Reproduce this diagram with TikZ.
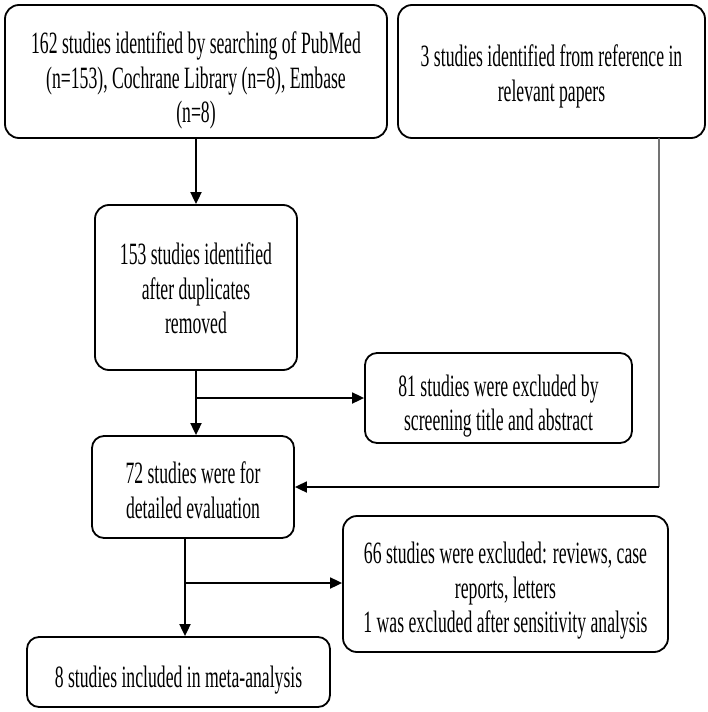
\documentclass[tikz,border=0pt]{standalone}
\usepackage{fontspec}
\setmainfont{Liberation Serif}[FakeStretch=0.57]
\usetikzlibrary{arrows.meta}
\begin{document}
\begin{tikzpicture}[x=1pt,y=-1pt,
  box/.style={draw, line width=1.8pt, rounded corners=14pt, inner sep=0pt},
  txt/.style={align=center, inner sep=0pt, font=\fontsize{31}{34.5}\selectfont},
  arr/.style={line width=1.8pt, -{Triangle[length=12pt,width=11pt]}},
  ln/.style={line width=1.8pt},
  gln/.style={line width=1.3pt, draw=black!55}]
\useasboundingbox (0,0) rectangle (708,712);
\fill[white] (0,0) rectangle (708,712);

\node[box, minimum width=382pt, minimum height=133pt] (b1) at (196,71.5) {};
\node[txt] (t1) at ([yshift=-9pt]b1.center)
  {162 studies identified by searching of PubMed\\(n=153), Cochrane Library (n=8), Embase\\(n=8)};
\node[box, minimum width=307pt, minimum height=133pt] (b2) at (551.5,71.5) {};
\node[txt] (t2) at ([yshift=-5pt]b2.center)
  {3 studies identified from reference in\\relevant papers};
\node[box, minimum width=202pt, minimum height=165pt] (b3) at (196,287.5) {};
\node[txt] (t3) at ([yshift=-1pt]b3.center)
  {153 studies identified\\after duplicates\\removed};
\node[box, minimum width=267pt, minimum height=90pt, rounded corners=12pt] (b81) at (498.5,398) {};
\node[txt] (t81) at ([yshift=-8pt]b81.center)
  {81 studies were excluded by\\screening title and abstract};
\node[box, minimum width=202pt, minimum height=102pt, rounded corners=12pt] (b72) at (193,487) {};
\node[txt] (t72) at ([yshift=-3pt]b72.center)
  {72 studies were for\\detailed evaluation};
\node[box, minimum width=325pt, minimum height=136pt] (b66) at (505.5,584) {};
\node[txt] (t66) at ([yshift=-7pt]b66.center)
  {66 studies were excluded: reviews, case\\reports, letters\\1 was excluded after sensitivity analysis};
\node[box, minimum width=303pt, minimum height=70pt, rounded corners=12pt] (b8) at (178.5,672) {};
\node[txt] (t8) at ([yshift=-8pt]b8.center)
  {8 studies included in meta-analysis};

% connectors
\draw[arr] (b1) -- (b3);

\coordinate (j1) at (b3.south |- b81.west);
\draw[ln] (b3.south) -- (j1);
\draw[arr] (j1) -- (b81.west);
\draw[arr] (j1) -- (b3.south |- b72.north);

\coordinate (g1) at (659,138);
\coordinate (g2) at (g1 |- b72.east);
\draw[gln] (g1) -- (g2);
\draw[arr] (g2) -- (b72.east);

\coordinate (k0) at (185,538);
\coordinate (k1) at (185,583);
\draw[ln] (k0) -- (k1);
\draw[arr] (k1) -- (k1 -| b66.west);
\draw[arr] (k1) -- (k1 |- b8.north);
\end{tikzpicture}
\end{document}
